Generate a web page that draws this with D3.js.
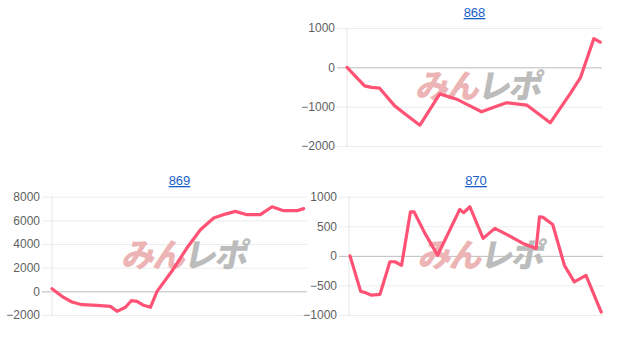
<!DOCTYPE html>
<html><head><meta charset="utf-8">
<script src="https://cdn.jsdelivr.net/npm/d3@7"></script>
<style>
body{margin:0;background:#fff;}
svg{display:block;font-family:Arial,"Liberation Sans",sans-serif;}
</style></head><body>
<svg id="c" width="617" height="346"></svg>
<script>
// machine 868
const x868 = [0, 6.9, 9.6, 12.8, 18.7, 23.3, 28.6, 36.4, 43.0, 47.6, 52.8, 58.1, 62.6, 70.5, 79.7, 87.6, 91.5, 96.8, 99.3];
const y868 = [0, -470, -510, -530, -980, -1210, -1470, -675, -810, -960, -1130, -1000, -900, -960, -1410, -660, -270, 730, 640];
const ticks868 = [1000, 0, -1000, -2000];
// machine 869
const x869 = [0, 3.9, 7.8, 11.8, 17.6, 22.9, 25.5, 28.8, 31.1, 33.3, 35.9, 38.6, 41.2, 47.7, 52.9, 58.2, 63.4, 68.0, 71.9, 76.5, 81.7, 86.3, 90.8, 96.1, 98.7];
const y869 = [225, -420, -900, -1130, -1180, -1270, -1690, -1350, -790, -850, -1180, -1350, 0, 1915, 3660, 5210, 6200, 6530, 6760, 6480, 6480, 7150, 6820, 6820, 6990];
const ticks869 = [8000, 6000, 4000, 2000, 0, -2000];
// machine 870
const x870 = [0.4, 4.6, 6.3, 8.9, 12.2, 16.1, 18.1, 20.7, 24.2, 25.6, 29.9, 34.9, 43.6, 45.2, 47.6, 52.8, 57.4, 62.6, 68.5, 73.7, 75.0, 76.4, 80.2, 84.8, 88.7, 93.3, 99.3];
const y870 = [0, -600, -620, -665, -650, -100, -100, -160, 745, 745, 380, 10, 785, 730, 830, 295, 465, 350, 210, 125, 660, 650, 530, -160, -440, -330, -950];
const ticks870 = [1000, 500, 0, -500, -1000];
const titles = ["868", "869", "870"];

const svg = d3.select("#c");
const panels = [
  {title: titles[0], xs: x868, ys: y868, ticks: ticks868, left: 347, right: 602, top: 28, bottom: 146, titleY: 17},
  {title: titles[1], xs: x869, ys: y869, ticks: ticks869, left: 52, right: 307, top: 196.7, bottom: 315, titleY: 185},
  {title: titles[2], xs: x870, ys: y870, ticks: ticks870, left: 349, right: 603, top: 196.7, bottom: 315, titleY: 185}
];

panels.forEach(p => {
  const g = svg.append("g");
  const x = d3.scaleLinear().domain([0, 100]).range([p.left, p.right]);
  const y = d3.scaleLinear().domain([d3.min(p.ticks), d3.max(p.ticks)]).range([p.bottom, p.top]);
  const ax = d3.axisLeft(y).tickValues(p.ticks).tickSize(-(p.right - p.left + 10)).tickPadding(2).tickFormat(d3.format("d"));
  const ag = g.append("g").attr("transform", `translate(${p.left - 10},0)`).call(ax);
  ag.select(".domain").remove();
  ag.selectAll(".tick line").attr("stroke", d => d === 0 ? "#bdbdbd" : "#ececec").attr("stroke-width", 1);
  ag.selectAll(".tick text").attr("fill", "#5f5f5f").attr("font-size", 12).attr("font-family", "Arial, 'Liberation Sans', sans-serif");
  g.append("line").attr("x1", p.left).attr("x2", p.left).attr("y1", p.top).attr("y2", p.bottom + 1)
    .attr("stroke", "#e6e6e6").attr("stroke-width", 1);
  // watermark
  const cx = (p.left + p.right) / 2 + 2;
  const cy = (p.top + p.bottom) / 2 + 11;
  const wm = g.append("text").attr("x", cx).attr("y", cy).attr("text-anchor", "middle")
    .attr("font-size", 33).attr("font-weight", 900)
    .attr("font-family", "'Noto Sans CJK JP', sans-serif")
    .attr("letter-spacing", -2)
    .attr("transform", `translate(${cy * 0.2},0) skewX(-11)`);
  wm.append("tspan").attr("fill", "#ecb4b4").text("みん");
  wm.append("tspan").attr("fill", "#bcbcbc").text("レポ");
  g.append("text").attr("x", (p.left + p.right) / 2).attr("y", p.titleY).attr("text-anchor", "middle")
    .attr("font-size", 13).attr("fill", "#1a5fc8").attr("text-decoration", "underline").text(p.title);
  const line = d3.line().x((d, i) => x(p.xs[i])).y(d => y(d));
  g.append("path").datum(p.ys).attr("d", line).attr("fill", "none")
    .attr("stroke", "#ff5274").attr("stroke-width", 3.2).attr("stroke-linejoin", "round").attr("stroke-linecap", "round");
});
</script>
</body></html>
